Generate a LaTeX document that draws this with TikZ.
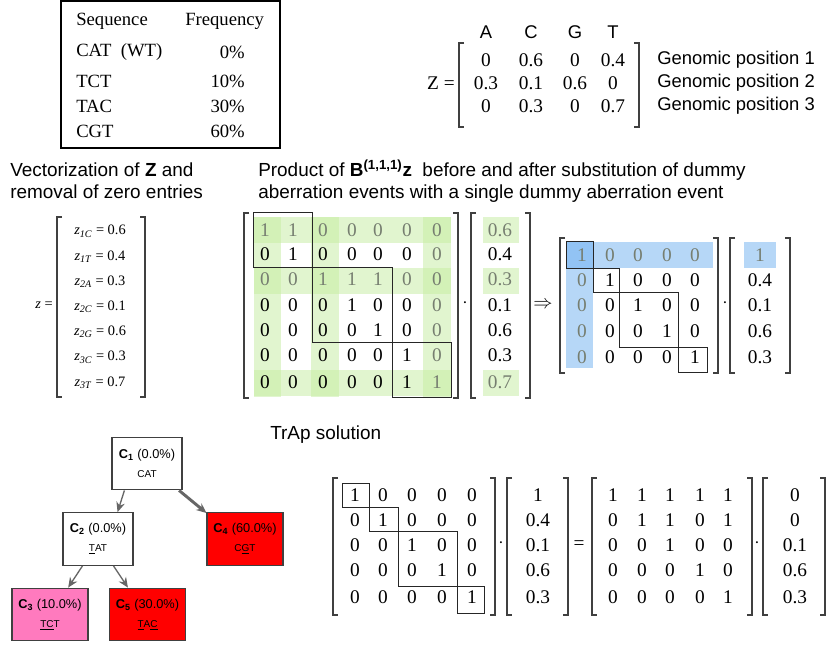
\documentclass[tikz,border=0pt]{standalone}
\usepackage{fontspec}
\setmainfont{Liberation Serif}
\setsansfont{Liberation Sans}
\usepackage{tikz}
\usetikzlibrary{arrows.meta}

\definecolor{shadegreen}{RGB}{196,236,160}
\definecolor{shadeblue}{RGB}{110,175,240}
\definecolor{fadegray}{RGB}{118,126,112}
\definecolor{boxline}{RGB}{64,64,64}
\definecolor{clonepink}{RGB}{255,122,190}
\definecolor{clonered}{RGB}{255,0,0}

\tikzset{
  num/.style={font=\fontsize{14.5}{16}\selectfont, inner sep=0pt},
  tab/.style={font=\fontsize{14}{16}\selectfont, inner sep=0pt},
  zent/.style={font=\fontsize{10.8}{12}\selectfont, inner sep=0pt},
  head/.style={font=\sffamily\fontsize{14.2}{16.5}\selectfont, align=left, inner sep=0pt},
  brk/.style={draw=boxline, line width=0.9pt},
  stair/.style={draw=black!85, line width=0.7pt},
  clone/.style={draw=boxline, line width=0.9pt, minimum width=52.5pt, minimum height=39.5pt,
    align=center, inner sep=1pt, font=\sffamily\fontsize{9.6}{11}\selectfont},
  link/.style={-{Stealth[length=7.5pt,width=6.5pt]}, draw=gray!80!black, line width=1pt},
}
\newcommand{\lbrk}[3]{\draw[brk] (#1+5,#2) -- (#1,#2) -- (#1,#3) -- (#1+5,#3);}
\newcommand{\rbrk}[3]{\draw[brk] (#1-5,#2) -- (#1,#2) -- (#1,#3) -- (#1-5,#3);}
\newcommand{\zsub}[2]{\textit{z}\textsubscript{\textit{#1}} = #2}

\begin{document}
\begin{tikzpicture}[x=0.75pt,y=-0.75pt]
\useasboundingbox (0,0) rectangle (830,647);

% frequency table
\draw[line width=0.8pt] (61,1) rectangle (280,148);
\node[tab,anchor=west] (seqh) at (76,21) {Sequence};
\node[tab,anchor=west] (freqh) at (185,21) {Frequency};
\foreach \s/\f/\y [count=\i] in {CAT\ \ (WT)/0\%/52, TCT/10\%/81, TAC/30\%/106, CGT/60\%/131}{
  \node[tab,anchor=west] (seq\i) at (76,\y) {\s};
  \node[tab,anchor=east] (freq\i) at (245,\y) {\f};
}

% Z matrix
\node[num,anchor=east] (zlab) at (455,83) {Z =};
\lbrk{459}{43}{127}
\rbrk{639}{43}{127}
\foreach \b/\x in {A/486,C/531,G/575,T/613}
  \node[head,font=\sffamily\fontsize{13.8}{16}\selectfont] (base\b) at (\x,32) {\b};
\foreach \a/\b/\c/\d [count=\i] in {0/0.6/0/0.4, 0.3/0.1/0.6/0, 0/0.3/0/0.7}{
  \node[num] (z\i a) at (486,37+23*\i) {\a};
  \node[num] (z\i c) at (531,37+23*\i) {\b};
  \node[num] (z\i g) at (575,37+23*\i) {\c};
  \node[num] (z\i t) at (613,37+23*\i) {\d};
  \node[head,anchor=west,font=\sffamily\fontsize{13.8}{16}\selectfont] (pos\i) at (657,37+23*\i) {Genomic position \i};
}

% vectorization
\node[head,anchor=west] (vechead) at (10,181) {Vectorization of \textbf{Z} and\\removal of zero entries};
\node[zent,anchor=east] (zvlab) at (53,305) {\textit{z} =};
\lbrk{57}{217}{397}
\rbrk{145}{217}{397}
\foreach \k/\v [count=\i] in {1C/0.6, 1T/0.4, 2A/0.3, 2C/0.1, 2G/0.6, 3C/0.3, 3T/0.7}
  \node[zent] (zv\i) at (100,206+25.2*\i) {\zsub{\k}{\v}};

% product before substitution
\node[head,anchor=west] (prodhead) at (258,181) {Product of \textbf{B\textsuperscript{(1,1,1)}z}\ \ before and after substitution of dummy\\aberration events with a single dummy aberration event};
\foreach \y in {217,268,370}
  \fill[shadegreen,opacity=0.5] (254,\y) rectangle (451,\y+26);
\foreach \x/\w in {254/27,311/28,423/28}
  \fill[shadegreen,opacity=0.5] (\x,217) rectangle (\x+\w,397);
\foreach \y in {217,268,370}
  \fill[shadegreen,opacity=0.5] (483,\y) rectangle (519,\y+26);
\lbrk{244}{213}{398}
\rbrk{458}{213}{398}
\foreach \row [count=\i] in {{1,1,0,0,0,0,0},{0,1,0,0,0,0,0},{0,0,1,1,1,0,0},{0,0,0,1,0,0,0},{0,0,0,0,1,0,0},{0,0,0,0,0,1,0},{0,0,0,0,0,1,1}}{
  \pgfmathsetmacro\ry{{230,254,279,305,330,355,382}[\i-1]}
  \foreach \v [count=\j] in \row {
    \pgfmathsetmacro\cx{{265,293,323,352,378,407,437}[\j-1]}
    \def\tc{black}
    \ifnum\i=1 \def\tc{fadegray}\fi
    \ifnum\i=3 \def\tc{fadegray}\fi
    \ifnum\j=7 \def\tc{fadegray}\fi
    \node[num,text=\tc] (b\i\j) at (\cx,\ry) {\v};
  }
}
\draw[stair] (253,212) rectangle (312,267);
\draw[stair] (312,267) rectangle (392,342);
\draw[stair] (392,342) rectangle (451,397);
\node[num] (dot1) at (465,303) {$\cdot$};
\lbrk{471}{213}{398}
\rbrk{530}{213}{398}
\foreach \v/\y [count=\i] in {0.6/230,0.4/254,0.3/279,0.1/305,0.6/330,0.3/355,0.7/382}{
  \def\tc{black}
  \ifodd\i \ifnum\i=5 \else \def\tc{fadegray}\fi\fi
  \node[num,text=\tc] (bv\i) at (500,\y) {\v};
}

% after substitution
\node[num] (impl) at (543,305) {$\Rightarrow$};
\fill[shadeblue,opacity=0.5] (566,242) rectangle (713,268);
\fill[shadeblue,opacity=0.5] (566,242) rectangle (593,368);
\fill[shadeblue,opacity=0.5] (744,242) rectangle (776,268);
\lbrk{560}{238}{373}
\rbrk{718}{238}{373}
\foreach \row [count=\i] in {{1,0,0,0,0},{0,1,0,0,0},{0,0,1,0,0},{0,0,0,1,0},{0,0,0,0,1}}{
  \pgfmathsetmacro\ry{{255,280,305,331,357}[\i-1]}
  \foreach \v [count=\j] in \row {
    \pgfmathsetmacro\cx{{582,610,638,667,695}[\j-1]}
    \def\tc{black}
    \ifnum\i=1 \def\tc{fadegray}\fi
    \ifnum\j=1 \def\tc{fadegray}\fi
    \node[num,text=\tc] (s\i\j) at (\cx,\ry) {\v};
  }
}
\draw[stair] (566,241) rectangle (593,268);
\draw[stair] (593,268) rectangle (619,292);
\draw[stair] (619,292) rectangle (678,347);
\draw[stair] (678,347) rectangle (707,372);
\node[num] (dot2) at (725,303) {$\cdot$};
\lbrk{730}{238}{373}
\rbrk{790}{238}{373}
\foreach \v/\y [count=\i] in {1/255,0.4/280,0.1/305,0.6/331,0.3/357}{
  \def\tc{black}
  \ifnum\i=1 \def\tc{fadegray}\fi
  \node[num,text=\tc] (sv\i) at (760,\y) {\v};
}

% TrAp solution
\node[head,anchor=west] (traphead) at (270,435) {TrAp solution};
\lbrk{333}{478}{615}
\rbrk{495}{478}{615}
\foreach \row [count=\i] in {{1,0,0,0,0},{0,1,0,0,0},{0,0,1,0,0},{0,0,0,1,0},{0,0,0,0,1}}{
  \pgfmathsetmacro\ry{{495,520,545,570,597}[\i-1]}
  \foreach \v [count=\j] in \row {
    \pgfmathsetmacro\cx{{355,383,412,442,472}[\j-1]}
    \node[num] (t\i\j) at (\cx,\ry) {\v};
  }
}
\draw[stair] (342,483) rectangle (369,507);
\draw[stair] (369,507) rectangle (398,531);
\draw[stair] (398,531) rectangle (457,586);
\draw[stair] (457,586) rectangle (484,613);
\node[num] (dot3) at (501,543) {$\cdot$};
\lbrk{507}{478}{615}
\rbrk{568}{478}{615}
\foreach \v/\y [count=\i] in {1/495,0.4/520,0.1/545,0.6/570,0.3/597}
  \node[num] (tv\i) at (538,\y) {\v};
\node[num] (eq) at (579,545) {=};
\lbrk{592}{478}{615}
\rbrk{752}{478}{615}
\foreach \row [count=\i] in {{1,1,1,1,1},{0,1,1,0,1},{0,0,1,0,0},{0,0,0,1,0},{0,0,0,0,1}}{
  \pgfmathsetmacro\ry{{495,520,545,570,597}[\i-1]}
  \foreach \v [count=\j] in \row {
    \pgfmathsetmacro\cx{{613,642,670,700,728}[\j-1]}
    \node[num] (u\i\j) at (\cx,\ry) {\v};
  }
}
\node[num] (dot4) at (757,543) {$\cdot$};
\lbrk{763}{478}{615}
\rbrk{825}{478}{615}
\foreach \v/\y [count=\i] in {0/495,0/520,0.1/545,0.6/570,0.3/597}
  \node[num] (uv\i) at (795,\y) {\v};

% clone tree
\node[clone,fill=white] (c1) at (147,463.5) {{\bfseries C\textsubscript{1}} (0.0\%)\\[3pt]{\fontsize{7.5}{9}\selectfont CAT}};
\node[clone,fill=white] (c2) at (98,539) {{\bfseries C\textsubscript{2}} (0.0\%)\\[3pt]{\fontsize{7.5}{9}\selectfont \underline{T}AT}};
\node[clone,fill=clonered,minimum width=57pt] (c4) at (245,539) {{\bfseries C\textsubscript{4}} (60.0\%)\\[3pt]{\fontsize{7.5}{9}\selectfont C\underline{G}T}};
\node[clone,fill=clonepink,minimum width=57pt] (c3) at (50,614.5) {{\bfseries C\textsubscript{3}} (10.0\%)\\[3pt]{\fontsize{7.5}{9}\selectfont \underline{TC}T}};
\node[clone,fill=clonered,minimum width=57.5pt] (c5) at (147.5,614.5) {{\bfseries C\textsubscript{5}} (30.0\%)\\[3pt]{\fontsize{7.5}{9}\selectfont \underline{T}A\underline{C}}};
\draw[link] (c1.230) -- (c2.54);
\draw[link,line width=2.2pt] (c1.320) -- (c4.146);
\draw[link] (c2.240) -- (c3.56);
\draw[link] (c2.300) -- (c5.126);
\end{tikzpicture}
\end{document}
